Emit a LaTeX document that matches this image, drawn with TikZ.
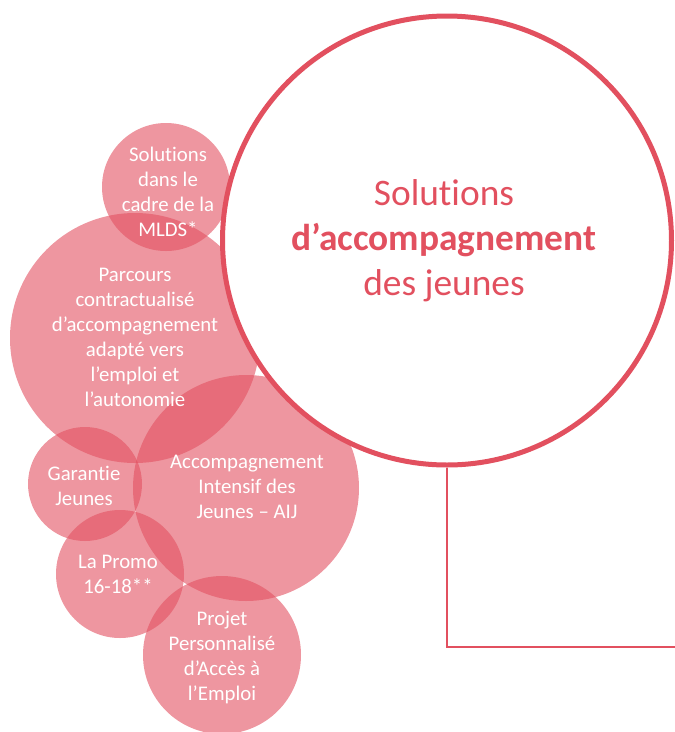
\documentclass[tikz,border=0pt]{standalone}
\usepackage{fontspec}
\setmainfont[Ligatures=NoCommon]{Carlito}
\definecolor{redc}{HTML}{E2505F}
\definecolor{pinkc}{HTML}{E25060}
\begin{document}
\begin{tikzpicture}[x=1pt,y=-1pt,
  bubble/.style={circle,fill=pinkc,fill opacity=0.6,inner sep=0pt,draw=none},
  btext/.style={text=white,align=center,font=\fontsize{20.8}{25}\selectfont,inner sep=0pt},
  bigcircle/.style={circle,draw=redc,line width=5pt,fill=white,inner sep=0pt,minimum size=449pt},
  titletext/.style={text=redc,align=center,font=\fontsize{37.4}{45}\selectfont,inner sep=0pt},
  conn/.style={draw=redc,line width=2.5pt}]
\useasboundingbox (0,0) rectangle (675,732);
% bubbles
\node[bubble,minimum size=128pt] (mlds) at (166,187) {};
\node[bubble,minimum size=250pt] (parcours) at (135,338) {};
\node[bubble,minimum size=114pt] (garantie) at (85,484) {};
\node[bubble,minimum size=226pt] (aij) at (246,488) {};
\node[bubble,minimum size=128pt] (promo) at (120,574) {};
\node[bubble,minimum size=158pt] (projet) at (222,655) {};
% main circle
\node[bigcircle] (main) at (447,240.5) {};
% texts
\node[btext] (tmlds) at (168,192) {Solutions\\dans le\\cadre de la\\MLDS*};
\node[btext] (tparcours) at (135,337) {Parcours\\contractualisé\\d’accompagnement\\adapté vers\\l’emploi et\\l’autonomie};
\node[btext] (tgarantie) at (84,486) {Garantie\\Jeunes};
\node[btext] (taij) at (247,487) {Accompagnement\\Intensif des\\Jeunes – AIJ};
\node[btext] (tpromo) at (118,574) {La Promo\\16-18**};
\node[btext] (tprojet) at (222,658) {Projet\\Personnalisé\\d’Accès à\\l’Emploi};
\node[titletext] (tmain) at (444,241) {Solutions\\\textbf{d’accompagnement}\\des jeunes};
% connector
\coordinate (lineend) at (675,647);
\draw[conn] (main.south) -- (main.south |- lineend) -- (lineend);
\end{tikzpicture}
\end{document}
